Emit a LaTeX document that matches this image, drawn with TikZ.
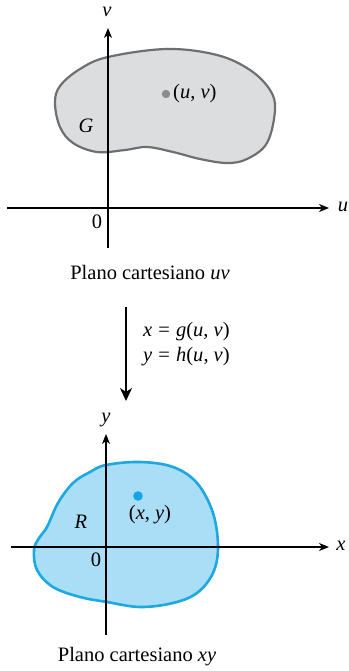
\documentclass[tikz,border=0pt]{standalone}
\usepackage{fontspec}
\setmainfont{Liberation Serif}
\usetikzlibrary{arrows.meta}
\definecolor{gfill}{HTML}{DCDDDF}
\definecolor{gline}{HTML}{6E6F71}
\definecolor{gdot}{HTML}{8C8C8C}
\definecolor{bfill}{HTML}{AADEF6}
\definecolor{bline}{HTML}{1CA8E0}
\definecolor{bdot}{HTML}{12A6E6}
\tikzset{
  axis/.style={line width=1.3pt, -{Stealth[length=10pt,width=8pt,inset=3pt]}},
  lbl/.style={inner sep=0pt, font=\fontsize{20.5}{24}\selectfont},
  maparrow/.style={line width=1.3pt, -{Stealth[length=13pt,width=12pt,inset=4pt]}}
}
\newcommand{\eqsp}{\hspace{0.3em}=\hspace{0.3em}}
\begin{document}
\begin{tikzpicture}[x=1pt,y=-1pt]
\useasboundingbox (0,0) rectangle (348,671);
% ---------- top: uv plane ----------
\filldraw[fill=gfill, draw=gline, line width=2.2pt]
  plot[smooth cycle, tension=0.6] coordinates {
  (108,57) (167,49) (217,55) (250,70) (270,90) (275,110) (267,143) (247,159) (227,163)
  (200,159) (173,152) (147,147) (125,150) (97,152) (73,143) (60,127) (55,103) (60,86)
  (80,69)};
\coordinate (uL) at (7,208);
\coordinate (uR) at (329,208);
\coordinate (vB) at (108,248);
\coordinate (vT) at (108,28);
\draw[axis] (uL) -- (uR);
\draw[axis] (vB) -- (vT);
\node[lbl] (u) at (343,207) {\textit{u}};
\node[lbl] (v) at (107,12) {\textit{v}};
\node[lbl] (o1) at (97,222) {0};
\node[lbl] (G) at (86,126) {\textit{G}};
\fill[gdot] (166,94) circle (4.2pt);
\node[lbl, anchor=west] (uvp) at (173,94) {(\textit{u}, \textit{v})};
\node[lbl] (cap1) at (150,273) {Plano cartesiano \textit{uv}};
% ---------- mapping arrow ----------
\coordinate (aT) at (126,307);
\coordinate (aB) at (126,401);
\draw[maparrow] (aT) -- (aB);
\node[lbl, anchor=west] (eq1) at (143,332) {\textit{x}\eqsp\textit{g}(\textit{u}, \textit{v})};
\node[lbl, anchor=west] (eq2) at (143,357) {\textit{y}\eqsp\textit{h}(\textit{u}, \textit{v})};
% ---------- bottom: xy plane ----------
\filldraw[fill=bfill, draw=bline, line width=2.6pt]
  plot[smooth cycle, tension=0.6] coordinates {
  (106,465) (140,462) (173,467) (197,483) (213,513) (218,547) (213,573) (197,593)
  (173,603) (140,607) (107,602) (80,597) (53,587) (37,570) (34,550) (39,538) (47,527)
  (58,503) (73,483) (90,472)};
\coordinate (xL) at (11,547);
\coordinate (xR) at (329,547);
\coordinate (yB) at (106,635);
\coordinate (yT) at (106,434);
\draw[axis] (xL) -- (xR);
\draw[axis] (yB) -- (yT);
\node[lbl] (x) at (341,546) {\textit{x}};
\node[lbl] (y) at (106,420) {\textit{y}};
\node[lbl] (o2) at (96,560) {0};
\node[lbl] (R) at (81,522) {\textit{R}};
\fill[bdot] (138,496) circle (4.8pt);
\node[lbl] (xyp) at (150,515) {(\textit{x}, \textit{y})};
\node[lbl] (cap2) at (137,657) {Plano cartesiano \textit{xy}};
\end{tikzpicture}
\end{document}
